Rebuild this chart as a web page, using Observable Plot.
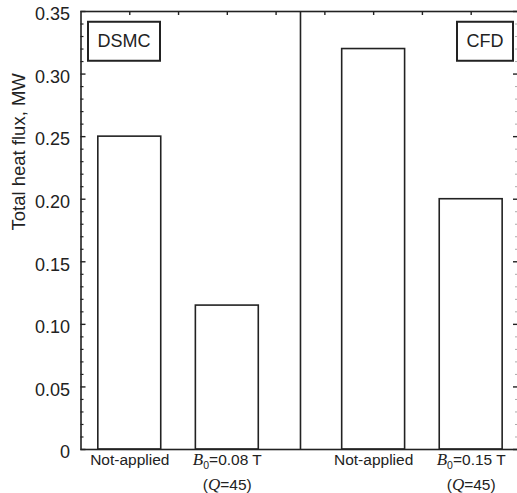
<!DOCTYPE html>
<html>
<head>
<meta charset="utf-8">
<script src="https://cdn.jsdelivr.net/npm/d3@7"></script>
<script src="https://cdn.jsdelivr.net/npm/@observablehq/plot@0.6"></script>
<style>
  html, body { margin: 0; padding: 0; background: #fff; }
  #chart svg { display: block; }
</style>
</head>
<body>
<div id="chart"></div>
<script>
// Total heat flux with and without the applied magnetic field, DSMC vs CFD
const methods = ["DSMC", "CFD"];
const dsmcConditions = ["Not-applied", "B0=0.08 T"];
const dsmcFlux = [0.25, 0.115];
const cfdConditions = ["Not-applied", "B0=0.15 T"];
const cfdFlux = [0.32, 0.20];
const fieldNote = "(Q=45)";
const yMajorTicks = [0, 0.05, 0.10, 0.15, 0.20, 0.25, 0.30, 0.35];
const yLabel = "Total heat flux, MW";

// Slot layout: each method panel holds its two bars on alternate slots,
// panels separated by a divider half-way between them.
const panels = [
  {method: methods[0], conditions: dsmcConditions, flux: dsmcFlux},
  {method: methods[1], conditions: cfdConditions, flux: cfdFlux}
];
const bars = panels.flatMap((p, pi) => p.conditions.map((c, ci) => ({
  method: p.method,
  condition: c,
  flux: p.flux[ci],
  field: ci > 0,
  slot: pi * 5 + ci * 2 + 1
})));
const halfBar = 0.645;
const divider = 4.5;
const slotTicks = d3.range(1, 9);
const yMinorTicks = d3.range(0, 36).map(i => i / 100).filter(v => Math.round(v * 100) % 5 !== 0);

const W = 517, H = 493;
const M = {left: 80.5, right: -1, top: 11, bottom: 44};
const innerW = W - M.left - M.right;
const innerH = H - M.top - M.bottom;
const xDomain = [0, 8.97];
const yDomain = [0, 0.35];
// one pixel expressed in data units, for the inward tick lengths
const xPx = (xDomain[1] - xDomain[0]) / innerW;
const yPx = (yDomain[1] - yDomain[0]) / innerH;

const ink = "#222";

const chart = Plot.plot({
  width: W,
  height: H,
  marginLeft: M.left,
  marginRight: M.right,
  marginTop: M.top,
  marginBottom: M.bottom,
  style: {fontFamily: "'Liberation Sans', Arial, sans-serif", fontSize: "18px", color: ink, background: "#fff"},
  x: {domain: xDomain, axis: null},
  y: {domain: yDomain, axis: null},
  marks: [
    // bars
    Plot.rect(bars, {
      x1: d => d.slot - halfBar, x2: d => d.slot + halfBar,
      y1: 0, y2: "flux",
      fill: "#fff", stroke: ink, strokeWidth: 1.6
    }),
    // divider between the DSMC and CFD panels
    Plot.ruleX([divider], {stroke: ink, strokeWidth: 1.6}),
    // inward ticks: left, right and top
    Plot.ruleY(yMajorTicks, {y: d => d, x1: xDomain[0], x2: xDomain[0] + 5 * xPx, stroke: ink, strokeWidth: 1.4}),
    Plot.ruleY(yMinorTicks, {y: d => d, x1: xDomain[0], x2: xDomain[0] + 3 * xPx, stroke: ink, strokeWidth: 1.2}),
    Plot.ruleY(yMajorTicks, {y: d => d, x1: xDomain[1] - 5 * xPx, x2: xDomain[1], stroke: ink, strokeWidth: 1.4}),
    Plot.ruleY(yMinorTicks, {y: d => d, x1: xDomain[1] - 3 * xPx, x2: xDomain[1], stroke: "#aaa", strokeWidth: 1}),
    Plot.ruleX(slotTicks, {x: d => d, y1: yDomain[1], y2: yDomain[1] - 4 * yPx, stroke: ink, strokeWidth: 1.4}),
    Plot.frame({stroke: ink, strokeWidth: 1.6}),
    // y tick labels
    Plot.text(yMajorTicks, {frameAnchor: "left", y: d => d, text: d => d === 0 ? "0" : d.toFixed(2),
      textAnchor: "end", dx: -11, dy: 3, fontSize: 18, fill: ink}),
    // y axis title
    Plot.text([yLabel], {frameAnchor: "left", rotate: -90, dx: -62, text: d => d, fontSize: 18.5, fill: ink}),
    // category labels under the bars
    Plot.text(bars, {x: "slot", y: 0, text: "condition", dy: 15.5, lineAnchor: "bottom", fontSize: 15.5, fill: ink}),
    Plot.text(bars.filter(d => d.field), {x: "slot", y: 0, text: () => fieldNote, dy: 40, lineAnchor: "bottom", fontSize: 15.5, fill: ink}),
    // panel tags
    Plot.text([methods[0]], {frameAnchor: "top-left", text: d => d, textAnchor: "start", lineAnchor: "middle", dx: 16.5, dy: 30, fontSize: 18, fill: ink, className: "panel-tag"}),
    Plot.text([methods[1]], {frameAnchor: "top-right", text: d => d, textAnchor: "end", lineAnchor: "middle", dx: -15, dy: 30, fontSize: 18, fill: ink, className: "panel-tag"})
  ]
});

document.getElementById("chart").appendChild(chart);

// Italic symbols and subscripts in the field labels
const serifItalic = "'Liberation Serif', 'Times New Roman', serif";
d3.select(chart).selectAll("text").each(function() {
  const t = this.textContent;
  const node = d3.select(this);
  if (/^B0=/.test(t)) {
    node.text(null);
    node.append("tspan").attr("font-family", serifItalic).attr("font-style", "italic").attr("font-size", "17px").text("B");
    node.append("tspan").attr("font-size", "10.5px").attr("dy", "4").text("0");
    node.append("tspan").attr("dy", "-4").text(t.slice(2));
  } else if (/^\(Q=/.test(t)) {
    node.text(null);
    node.append("tspan").text("(");
    node.append("tspan").attr("font-family", serifItalic).attr("font-style", "italic").attr("font-size", "17px").text("Q");
    node.append("tspan").text(t.slice(2));
  }
});

// Boxes round the panel tags
d3.select(chart).selectAll(".panel-tag text").each(function() {
  const b = this.getBBox();
  const padX = 9.5, boxH = 39;
  const cy = b.y + b.height / 2;
  const r = document.createElementNS("http://www.w3.org/2000/svg", "rect");
  r.setAttribute("x", b.x - padX);
  r.setAttribute("y", cy - boxH / 2);
  r.setAttribute("width", b.width + 2 * padX);
  r.setAttribute("height", boxH);
  const tr = this.getAttribute("transform");
  if (tr) r.setAttribute("transform", tr);
  r.setAttribute("fill", "#fff");
  r.setAttribute("stroke", ink);
  r.setAttribute("stroke-width", 2);
  this.parentNode.insertBefore(r, this);
});
</script>
</body>
</html>
